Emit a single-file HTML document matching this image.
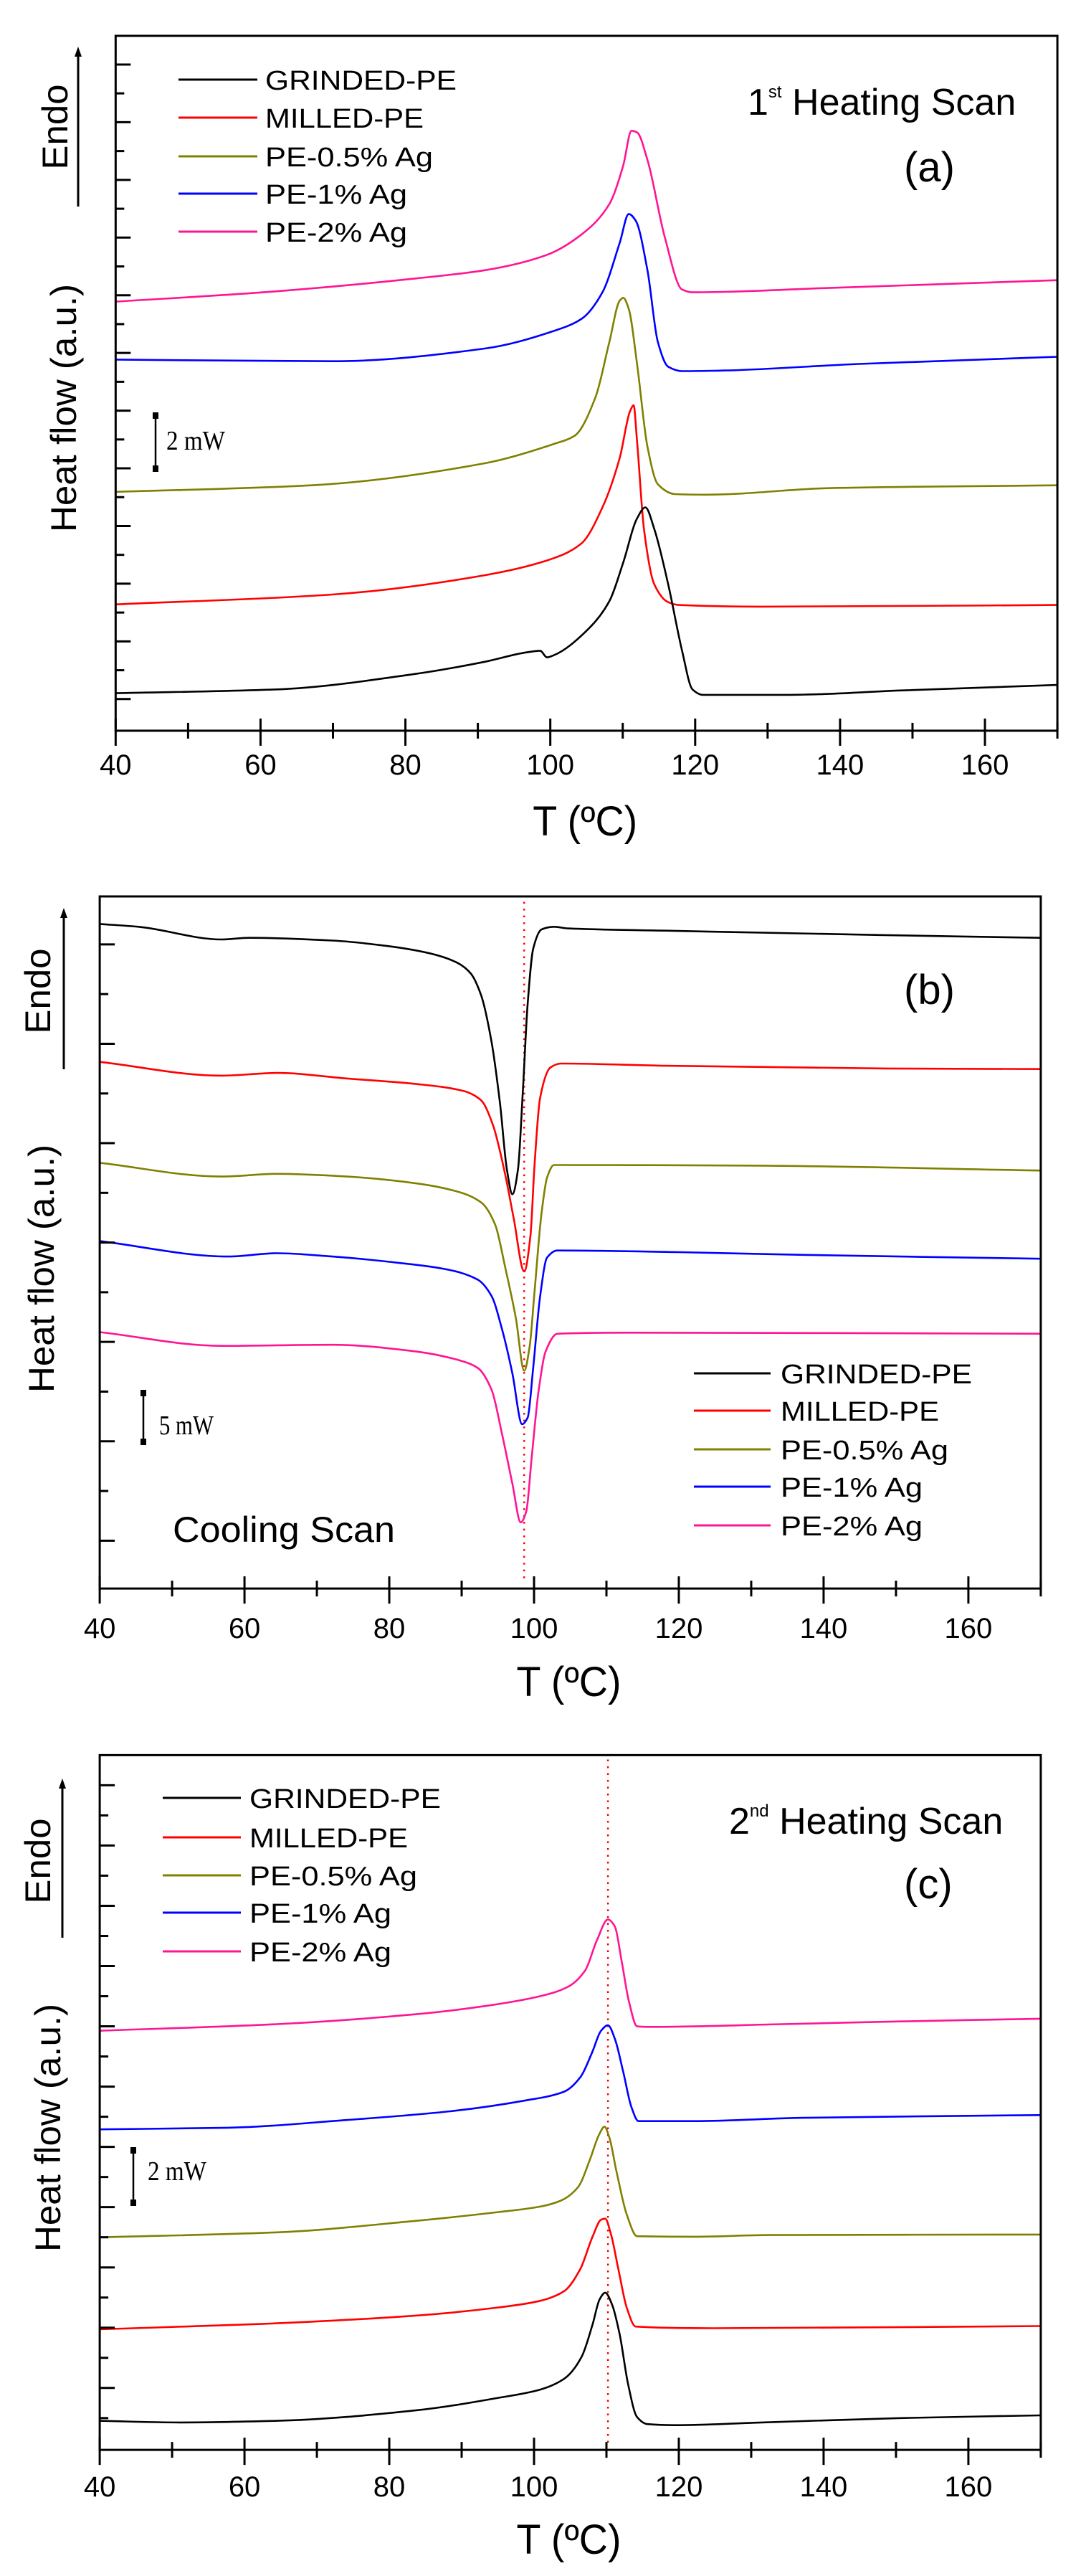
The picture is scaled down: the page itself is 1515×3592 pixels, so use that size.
<!DOCTYPE html>
<html><head><meta charset="utf-8"><style>
html,body{margin:0;padding:0;background:#fff;}
svg{display:block;}
text{font-family:"Liberation Sans",Arial,sans-serif;fill:#000;}
.serif{font-family:"Liberation Serif",serif;}
</style></head><body>
<svg id="s" xmlns="http://www.w3.org/2000/svg" width="1515" height="3592" viewBox="0 0 1515 3592"></svg>
<script>
const S=document.getElementById('s');
let out='';
const SX=0.966;
function smooth(P){
  const n=P.length, d=[], m=[];
  for(let i=0;i<n-1;i++) d.push((P[i+1][1]-P[i][1])/(P[i+1][0]-P[i][0]));
  m[0]=d[0]; m[n-1]=d[n-2];
  for(let i=1;i<n-1;i++){
    if(d[i-1]*d[i]<=0) m[i]=0;
    else { const w1=2*(P[i+1][0]-P[i][0])+(P[i][0]-P[i-1][0]), w2=(P[i+1][0]-P[i][0])+2*(P[i][0]-P[i-1][0]);
      m[i]=(w1+w2)/(w1/d[i-1]+w2/d[i]); }
  }
  let s=`M${P[0][0].toFixed(1)},${P[0][1].toFixed(1)}`;
  for(let i=0;i<n-1;i++){
    const h=(P[i+1][0]-P[i][0])/3;
    s+=` C${(P[i][0]+h).toFixed(1)},${(P[i][1]+m[i]*h).toFixed(1)} ${(P[i+1][0]-h).toFixed(1)},${(P[i+1][1]-m[i+1]*h).toFixed(1)} ${P[i+1][0].toFixed(1)},${P[i+1][1].toFixed(1)}`;
  }
  return s;
}
function panel(c){
  const sy=c.sy, off=c.off;
  const X=x=>x*SX, Y=y=>y*sy+off;
  const L=X(c.box[0]),R=X(c.box[1]),T=Y(c.box[2]),B=Y(c.box[3]);
  const xs=t=>L+(t-40)*(R-L)/130;
  const cols={k:'#000',r:'#ff0000',o:'#808000',b:'#0000ff',p:'#ff1493'};
  if(c.dot){out+=`<line x1="${X(c.dot[0])}" y1="${Y(c.dot[1])}" x2="${X(c.dot[0])}" y2="${Y(c.dot[2])}" stroke="#ff0000" stroke-width="2.5" stroke-dasharray="2.5,7"/>`;}
  for(const k in c.curves){
    const pts=c.curves[k].map(p=>[X(p[0]),Y(p[1])]);
    out+=`<path fill="none" stroke="${cols[k]}" stroke-width="2.6" stroke-linejoin="round" d="${smooth(pts)}"/>`;
  }
  out+=`<rect x="${L}" y="${T}" width="${R-L}" height="${B-T}" fill="none" stroke="#000" stroke-width="3"/>`;
  for(let t=40;t<=170;t+=10){
    const x=xs(t); const maj=(t%20==0);
    out+=`<line x1="${x}" y1="${B-(maj?17:11)}" x2="${x}" y2="${B+(maj?21:11)}" stroke="#000" stroke-width="3"/>`;
    if(maj&&t<=160) out+=`<text x="${x}" y="${c.xl}" font-size="40" text-anchor="middle">${t}</text>`;
  }
  let i=0;
  for(let y=Y(c.yt0);y<B-8;y+=c.ytd*sy){
    out+=`<line x1="${L}" y1="${y}" x2="${L+(i%2==0?21:12)}" y2="${y}" stroke="#000" stroke-width="3"/>`;i++;
  }
  out+=`<line x1="${c.ar[0]}" y1="${c.ar[1]+8}" x2="${c.ar[0]}" y2="${c.ar[2]}" stroke="#000" stroke-width="3"/>`;
  out+=`<polygon points="${c.ar[0]-5},${c.ar[1]+14} ${c.ar[0]+5},${c.ar[1]+14} ${c.ar[0]},${c.ar[1]}" fill="#000"/>`;
  out+=`<text transform="translate(${c.endo[0]},${c.endo[1]}) rotate(-90)" font-size="50" text-anchor="middle" dy="17" textLength="119" lengthAdjust="spacingAndGlyphs">Endo</text>`;
  out+=`<text transform="translate(${c.hf[0]},${c.hf[1]}) rotate(-90)" font-size="50" text-anchor="middle" dy="17" textLength="346" lengthAdjust="spacingAndGlyphs">Heat flow (a.u.)</text>`;
  const sb=c.sb;
  out+=`<line x1="${sb[0]}" y1="${sb[1]}" x2="${sb[0]}" y2="${sb[2]}" stroke="#000" stroke-width="2.5"/>`;
  out+=`<rect x="${sb[0]-4}" y="${sb[1]}" width="8" height="9" fill="#000"/><rect x="${sb[0]-4}" y="${sb[2]-9}" width="8" height="9" fill="#000"/>`;
  out+=`<text class="serif" x="${sb[3]}" y="${sb[4]}" font-size="38" textLength="${sb[6]}" lengthAdjust="spacingAndGlyphs">${sb[5]}</text>`;
  const names=['GRINDED-PE','MILLED-PE','PE-0.5% Ag','PE-1% Ag','PE-2% Ag'];
  const lens=[267,221,234,198,198];
  const lc=['#000','#ff0000','#808000','#0000ff','#ff1493'];
  for(let j=0;j<5;j++){
    const y=c.lg.y[j];
    out+=`<line x1="${c.lg.x0}" y1="${y}" x2="${c.lg.x1}" y2="${y}" stroke="${lc[j]}" stroke-width="3"/>`;
    out+=`<text x="${c.lg.tx}" y="${y+14}" font-size="38" textLength="${lens[j]}" lengthAdjust="spacingAndGlyphs">${names[j]}</text>`;
  }
  out+=`<text x="${(L+R)/2-2}" y="${c.tl}" font-size="58" text-anchor="middle" textLength="146" lengthAdjust="spacingAndGlyphs">T (ºC)</text>`;
  out+=c.extra;
}
panel({off:0,sy:0.769,box:[167,1527,65,1325],xl:1080,yt0:117,ytd:52.3,
 ar:[109,65,288],endo:[77,177],hf:[89,569],
 sb:[217,575,658,232,627,'2 mW',82],
 lg:{x0:249,x1:359,tx:370,y:[111,164,218,270,323]},tl:1165,
 extra:`<text x="1043" y="160" font-size="52">1<tspan font-size="24" dy="-24">st</tspan><tspan dy="24"> Heating Scan</tspan></text><text x="1261" y="253" font-size="58">(a)</text>`,
 curves:{
 p:[[167,547],[380,530],[600,505],[700,490],[790,462],[840,425],[880,370],[900,300],[912,237],[920,240],[935,290],[960,430],[985,525],[1000,530],[1200,522],[1527,508]],
 b:[[167,652],[480,655],[700,632],[800,600],[840,578],[870,530],[895,440],[908,388],[918,400],[935,490],[950,620],[965,665],[985,673],[1040,672],[1240,660],[1527,647]],
 o:[[167,892],[450,880],[700,840],[800,805],[830,790],[860,720],[880,620],[895,545],[900,540],[908,560],[920,660],[935,810],[950,878],[975,896],[1020,897],[1200,885],[1527,880]],
 r:[[167,1096],[480,1078],[700,1043],[800,1012],[840,985],[870,920],[895,830],[910,745],[915,735],[920,800],[930,960],[945,1060],[965,1092],[980,1097],[1100,1100],[1527,1097]],
 k:[[167,1257],[400,1250],[600,1222],[700,1200],[760,1183],[780,1180],[790,1192],[800,1188],[850,1140],[880,1090],[900,1020],[920,940],[932,920],[945,960],[965,1060],[985,1180],[1000,1250],[1015,1260],[1140,1260],[1300,1252],[1527,1242]]}
});
panel({off:1200,sy:0.769,box:[144,1503,65,1320],xl:2284,yt0:152,ytd:90.1,dot:[757,75,1305],
 ar:[89,1266,1491],endo:[53,1382],hf:[58,1769],
 sb:[200,1938,2015,222,2000,'5 mW',76],
 lg:{x0:968,x1:1075,tx:1089,y:[1915,1967,2021,2073,2127]},tl:2365,
 extra:`<text x="1261" y="1400" font-size="58">(b)</text><text x="241" y="2150" font-size="50" textLength="310" lengthAdjust="spacingAndGlyphs">Cooling Scan</text>`,
 curves:{
 k:[[144,115],[200,120],[320,143],[360,140],[480,145],[560,155],[620,168],[660,185],[680,205],[695,245],[710,330],[722,440],[732,560],[740,605],[748,560],[755,420],[762,260],[770,160],[782,125],[800,120],[820,123],[960,127],[1270,135],[1503,140]],
 r:[[144,365],[320,390],[400,385],[500,395],[600,405],[670,418],[695,435],[712,480],[728,560],[742,650],[757,745],[766,680],[772,550],[780,430],[795,375],[810,368],[960,372],[1280,377],[1503,378]],
 o:[[144,548],[320,573],[400,568],[490,572],[600,585],[660,600],[695,620],[715,660],[730,740],[745,830],[757,925],[765,880],[772,780],[782,640],[790,575],[800,552],[1080,553],[1503,562]],
 b:[[144,690],[330,718],[400,712],[480,718],[580,730],[640,740],[690,760],[710,790],[725,850],[740,930],[754,1022],[762,1010],[770,920],[780,790],[790,720],[805,707],[980,710],[1160,715],[1503,722]],
 p:[[144,855],[320,880],[480,878],[600,890],[660,905],[690,920],[710,960],[725,1040],[740,1130],[752,1200],[760,1180],[768,1080],[778,960],[788,890],[805,858],[900,856],[1503,858]]}
});
panel({off:2400,sy:0.764,box:[144,1503,62,1330],xl:3481,yt0:117,ytd:55,dot:[878,70,1320],
 ar:[87,2480,2702],endo:[53,2595],hf:[67,2967],
 sb:[186,2994,3076,206,3040,'2 mW',82],
 lg:{x0:227,x1:336,tx:348,y:[2507,2562,2615,2667,2721]},tl:3561,
 extra:`<text x="1017" y="2557" font-size="52">2<tspan font-size="24" dy="-24">nd</tspan><tspan dy="24"> Heating Scan</tspan></text><text x="1261" y="2647" font-size="58">(c)</text>`,
 curves:{
 p:[[144,565],[400,553],[600,535],[700,520],[780,502],[820,485],[845,455],[862,400],[878,362],[888,375],[898,440],[908,510],[920,557],[940,558],[1130,553],[1300,548],[1503,543]],
 b:[[144,745],[330,742],[500,728],[650,712],[760,692],[815,676],[838,650],[855,605],[868,565],[878,555],[888,580],[900,640],[912,705],[922,730],[1000,730],[1160,724],[1503,719]],
 o:[[144,942],[400,933],[600,912],[720,896],[780,886],[810,875],[835,850],[852,800],[865,755],[873,740],[880,760],[890,820],[905,900],[920,940],[1000,941],[1110,938],[1503,937]],
 r:[[144,1110],[380,1100],[600,1085],[720,1070],[780,1058],[815,1040],[838,1000],[856,940],[868,910],[874,908],[882,935],[893,1000],[905,1070],[918,1105],[1030,1108],[1503,1104]],
 k:[[144,1277],[260,1280],[400,1277],[600,1258],[720,1235],[780,1220],[815,1200],[840,1160],[856,1100],[866,1055],[874,1043],[884,1065],[895,1120],[907,1210],[920,1270],[935,1283],[975,1285],[1100,1280],[1300,1272],[1503,1267]]}
});
S.innerHTML=out;
</script>
</body></html>
